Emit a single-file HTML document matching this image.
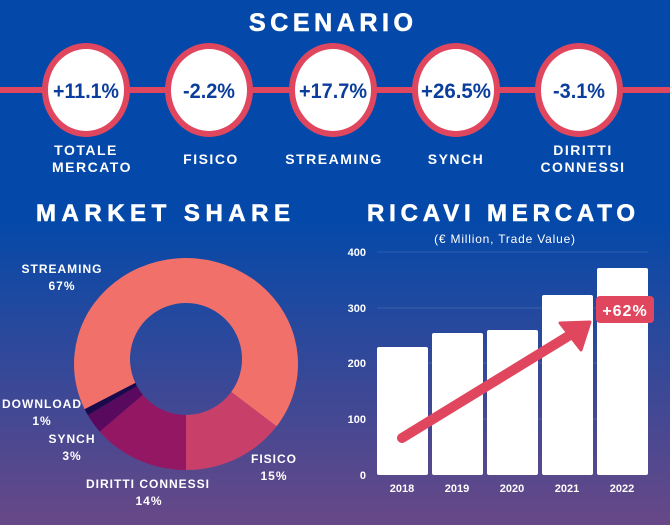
<!DOCTYPE html>
<html><head><meta charset="utf-8"><style>
html,body{margin:0;padding:0;width:670px;height:525px;overflow:hidden}
svg{display:block}
text{font-family:"Liberation Sans",sans-serif;font-weight:bold;fill:#fff}
</style></head><body>
<svg width="670" height="525" viewBox="0 0 670 525" xmlns="http://www.w3.org/2000/svg">
<defs>
<linearGradient id="bg" x1="0" y1="0" x2="0" y2="1">
<stop offset="0" stop-color="#0449a9"/>
<stop offset="0.42" stop-color="#0449a9"/>
<stop offset="1" stop-color="#684887"/>
</linearGradient>
</defs>
<rect width="670" height="525" fill="url(#bg)"/>
<text x="249" y="31" font-size="25" stroke="#fff" stroke-width="0.6" textLength="164" lengthAdjust="spacing">SCENARIO</text>
<rect x="0" y="87" width="670" height="6" fill="#e0475e"/>
<g stroke="#e0475e" stroke-width="6" fill="#fff">
<ellipse cx="86" cy="90" rx="41" ry="44"/>
<ellipse cx="209" cy="90" rx="41" ry="44"/>
<ellipse cx="333" cy="90" rx="41" ry="44"/>
<ellipse cx="456" cy="90" rx="41" ry="44"/>
<ellipse cx="579" cy="90" rx="41" ry="44"/>
</g>
<g font-size="21" text-anchor="middle">
<text x="86" y="98" style="fill:#0b3d9c" textLength="66" lengthAdjust="spacingAndGlyphs">+11.1%</text>
<text x="209" y="98" style="fill:#0b3d9c" textLength="52" lengthAdjust="spacingAndGlyphs">-2.2%</text>
<text x="333" y="98" style="fill:#0b3d9c" textLength="68" lengthAdjust="spacingAndGlyphs">+17.7%</text>
<text x="456" y="98" style="fill:#0b3d9c" textLength="70" lengthAdjust="spacingAndGlyphs">+26.5%</text>
<text x="579" y="98" style="fill:#0b3d9c" textLength="52" lengthAdjust="spacingAndGlyphs">-3.1%</text>
</g>
<g font-size="14" text-anchor="middle" letter-spacing="1.5">
<text x="86" y="155">TOTALE</text>
<text x="92" y="172">MERCATO</text>
<text x="211" y="164">FISICO</text>
<text x="334" y="164">STREAMING</text>
<text x="456" y="164">SYNCH</text>
<text x="583" y="155">DIRITTI</text>
<text x="583" y="172">CONNESSI</text>
</g>
<text x="36" y="221" font-size="24" stroke="#fff" stroke-width="0.6" textLength="254" lengthAdjust="spacing">MARKET SHARE</text>
<text x="367" y="221" font-size="24" stroke="#fff" stroke-width="0.6" textLength="268" lengthAdjust="spacing">RICAVI MERCATO</text>
<text x="505" y="243" font-size="12" style="font-weight:normal" text-anchor="middle" letter-spacing="0.8">(€ Million, Trade Value)</text>

<g id="donut"></g>
<g font-size="12" text-anchor="middle" letter-spacing="1">
<text x="62" y="273">STREAMING</text>
<text x="62" y="290">67%</text>
<text x="42" y="408">DOWNLOAD</text>
<text x="42" y="425">1%</text>
<text x="72" y="443">SYNCH</text>
<text x="72" y="460">3%</text>
<text x="274" y="463">FISICO</text>
<text x="274" y="480">15%</text>
<text x="148" y="488">DIRITTI CONNESSI</text>
<text x="149" y="505">14%</text>
</g>

<g stroke="#ffffff" stroke-opacity="0.12" stroke-width="1">
<line x1="377" y1="252" x2="648" y2="252"/>
<line x1="377" y1="308" x2="648" y2="308"/>
<line x1="377" y1="363" x2="648" y2="363"/>
<line x1="377" y1="419" x2="648" y2="419"/>
</g>
<g fill="#fff">
<rect x="377" y="347" width="51" height="128" rx="2"/>
<rect x="432" y="333" width="51" height="142" rx="2"/>
<rect x="487" y="330" width="51" height="145" rx="2"/>
<rect x="542" y="295" width="51" height="180" rx="2"/>
<rect x="597" y="268" width="51" height="207" rx="2"/>
</g>
<g font-size="11" text-anchor="end">
<text x="366" y="256">400</text>
<text x="366" y="312">300</text>
<text x="366" y="367">200</text>
<text x="366" y="423">100</text>
<text x="366" y="479">0</text>
</g>
<g font-size="11" text-anchor="middle">
<text x="402" y="492">2018</text>
<text x="457" y="492">2019</text>
<text x="512" y="492">2020</text>
<text x="567" y="492">2021</text>
<text x="622" y="492">2022</text>
</g>
<line x1="402" y1="438" x2="575" y2="332" stroke="#e0475e" stroke-width="10" stroke-linecap="round"/>
<polygon points="590,322 560,323 581,350" fill="#e0475e" stroke="#e0475e" stroke-width="3" stroke-linejoin="round"/>
<rect x="596" y="296" width="58" height="27" rx="4" fill="#e0475e"/>
<text x="625" y="316" font-size="16" text-anchor="middle" letter-spacing="1">+62%</text>

<script>
(function(){
var cx=186,cy=364,rx=112,ry=106,ir=56,icy=359;
var segs=[[126,180,'#c8406a'],[180,230.4,'#941763'],[230.4,241.2,'#5a0a5e'],[241.2,244.8,'#1a0a4a'],[244.8,486,'#f2706a']];
var g=document.getElementById('donut'),ns='http://www.w3.org/2000/svg';
function pt(a,rX,rY,y0){var r=(a-90)*Math.PI/180;return [cx+rX*Math.cos(r),y0+rY*Math.sin(r)];}
segs.forEach(function(s){
var a0=s[0],a1=s[1],lg=(a1-a0)>180?1:0;
var p0=pt(a0,rx,ry,cy),p1=pt(a1,rx,ry,cy),q1=pt(a1,ir,ir,icy),q0=pt(a0,ir,ir,icy);
var d='M'+p0+' A'+rx+' '+ry+' 0 '+lg+' 1 '+p1+' L'+q1+' A'+ir+' '+ir+' 0 '+lg+' 0 '+q0+'Z';
var e=document.createElementNS(ns,'path');e.setAttribute('d',d);e.setAttribute('fill',s[2]);g.appendChild(e);
});
})();
</script>
</svg>
</body></html>
